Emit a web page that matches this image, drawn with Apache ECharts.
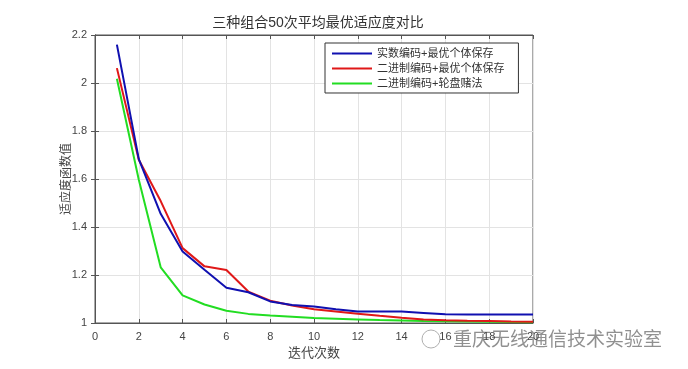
<!DOCTYPE html>
<html><head><meta charset="utf-8">
<script src="https://cdn.jsdelivr.net/npm/echarts@6/dist/echarts.min.js"></script>
<style>html,body{margin:0;padding:0;background:#fff;}#c{width:688px;height:369px;}</style>
</head><body><div id="c"></div>
<script>
const iterations = [1,2,3,4,5,6,7,8,9,10,11,12,13,14,15,16,17,18,19,20];
const realElite = [2.160,1.683,1.455,1.298,1.222,1.147,1.128,1.090,1.075,1.069,1.057,1.048,1.048,1.048,1.042,1.036,1.035,1.035,1.035,1.035];
const binElite = [2.062,1.680,1.508,1.312,1.236,1.221,1.131,1.093,1.073,1.057,1.048,1.039,1.030,1.022,1.015,1.011,1.009,1.008,1.006,1.005];
const binRoulette = [2.018,1.597,1.232,1.115,1.077,1.051,1.038,1.031,1.026,1.021,1.018,1.015,1.012,1.010,1.008,1.007,1.006,1.005,1.004,1.003];
const seriesNames = ['实数编码+最优个体保存','二进制编码+最优个体保存','二进制编码+轮盘赌法'];
const xTicks = [0,2,4,6,8,10,12,14,16,18,20];
const yTicks = [1,1.2,1.4,1.6,1.8,2,2.2];

const font = 'Liberation Sans, Noto Sans CJK SC, sans-serif';
const chart = echarts.init(document.getElementById('c'));
function pairs(arr){ return iterations.map((x,i)=>[x,arr[i]]); }
chart.setOption({
  animation:false,
  backgroundColor:'#fff',
  title:{text:'三种组合50次平均最优适应度对比',left:313,top:11,textAlign:'center',
    textStyle:{fontSize:14,fontWeight:'normal',color:'#333',fontFamily:font}},
  grid:{left:95,right:155,top:35,bottom:46,show:true,borderColor:'#555',borderWidth:1},
  legend:{show:true,top:43,left:325,orient:'vertical',itemGap:4,itemWidth:40,itemHeight:2,
    padding:[5,14,4,7],borderColor:'#333',borderWidth:1,backgroundColor:'#fff',
    icon:'rect',textStyle:{fontSize:11,color:'#333',fontFamily:font},data:seriesNames},
  xAxis:[{type:'value',min:0,max:20,interval:2,
    name:'迭代次数',nameLocation:'middle',nameGap:21,nameTextStyle:{fontSize:13,color:'#444',fontFamily:font},
    axisLine:{show:true,lineStyle:{color:'#555'}},axisTick:{inside:true,length:4,lineStyle:{color:'#555'}},
    axisLabel:{fontSize:11,color:'#444',margin:8,fontFamily:font,formatter:v=>String(v)},
    splitLine:{show:true,lineStyle:{color:'#e3e3e3'}}},
    {type:'value',min:0,max:20,interval:2,position:'top',axisLine:{show:true,lineStyle:{color:'#555'}},
    axisTick:{inside:true,length:4,lineStyle:{color:'#555'}},axisLabel:{show:false},splitLine:{show:false}}],
  yAxis:[{type:'value',min:1,max:2.2,interval:0.2,
    name:'适应度函数值',nameLocation:'middle',nameGap:22,nameMoveOverlap:false,nameTextStyle:{fontSize:12,color:'#444',fontFamily:font},
    axisLine:{show:true,lineStyle:{color:'#555'}},axisTick:{inside:true,length:4,lineStyle:{color:'#555'}},
    axisLabel:{fontSize:11,color:'#444',margin:8,fontFamily:font,formatter:v=>{const r=Math.round(v*10)/10;return yTicks.includes(r)?String(r):'';}},
    splitLine:{show:true,lineStyle:{color:'#e3e3e3'}}},
    {type:'value',min:1,max:2.2,interval:0.2,position:'right',axisLine:{show:true,lineStyle:{color:'#555'}},
    axisTick:{inside:true,length:4,lineStyle:{color:'#555'}},axisLabel:{show:false},splitLine:{show:false}}],
  series:[
    {name:seriesNames[0],type:'line',data:pairs(realElite),showSymbol:false,symbol:'none',color:'#1010b0',lineStyle:{width:2,color:'#1010b0'},z:3},
    {name:seriesNames[1],type:'line',data:pairs(binElite),showSymbol:false,symbol:'none',color:'#e01818',lineStyle:{width:2,color:'#e01818'},z:2},
    {name:seriesNames[2],type:'line',data:pairs(binRoulette),showSymbol:false,symbol:'none',color:'#22dd22',lineStyle:{width:2,color:'#22dd22'},z:1}
  ],
  graphic:[
    {type:'text',left:453,top:329,style:{text:'重庆无线通信技术实验室',font:'19px Noto Sans CJK SC, sans-serif',fill:'#909090'}},
    {type:'circle',shape:{cx:431,cy:339,r:9},style:{fill:'none',stroke:'#b0b0b0',lineWidth:1}}
  ]
});
</script></body></html>
